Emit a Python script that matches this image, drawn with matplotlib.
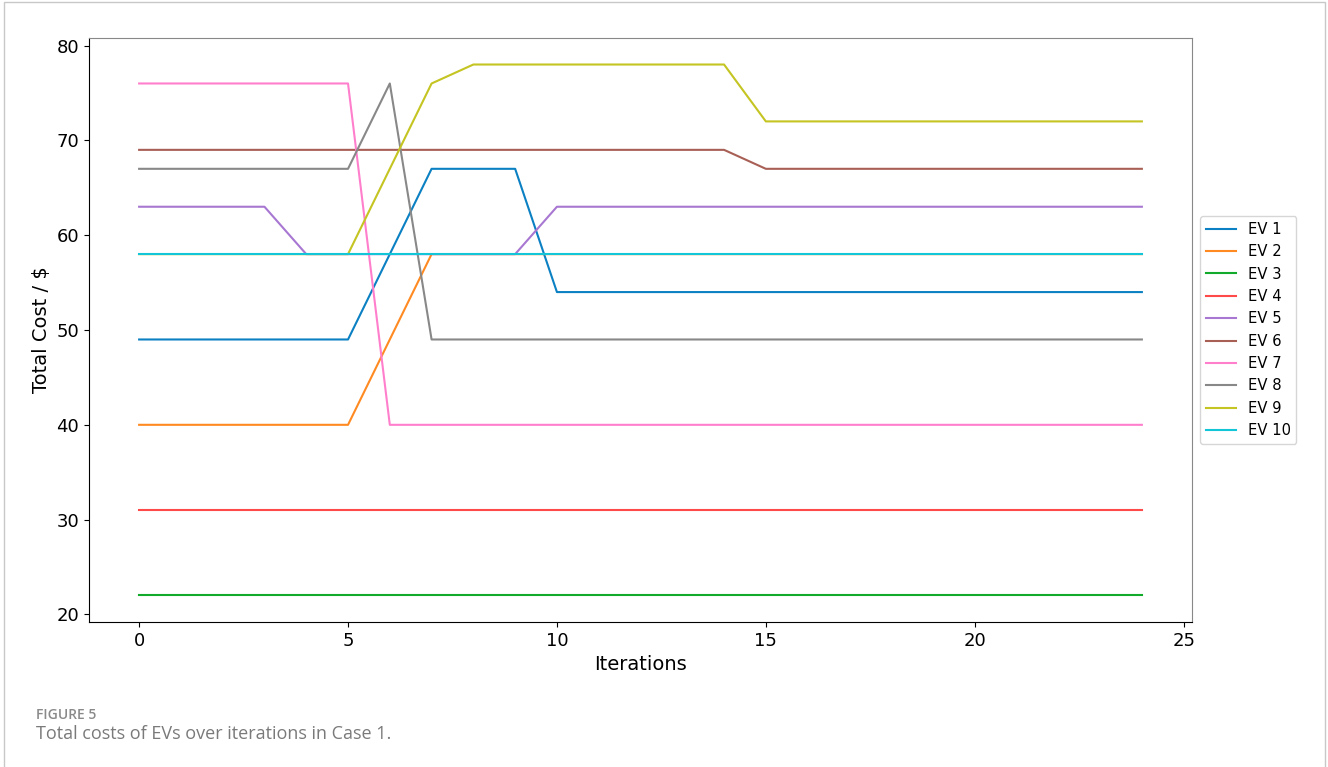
import numpy as np
import matplotlib.pyplot as plt
from matplotlib.patches import Rectangle

# costo total de cada EV por iteracion (0..24)
iteraciones = list(range(25))
ev1 = [49] * 6 + [58] + [67] * 3 + [54] * 15
ev2 = [40] * 6 + [49] + [58] * 18
ev3 = [22] * 25
ev4 = [31] * 25
ev5 = [63] * 4 + [58] * 6 + [63] * 15
ev6 = [69] * 15 + [67] * 10
ev7 = [76] * 6 + [40] * 19
ev8 = [67] * 6 + [76] + [49] * 18
ev9 = [58] * 6 + [67] + [76] + [78] * 7 + [72] * 10
ev10 = [58] * 25

costos = [ev1, ev2, ev3, ev4, ev5, ev6, ev7, ev8, ev9, ev10]
nombres = [f"EV {i}" for i in range(1, 11)]
colores = ["#0b80c2", "#ff8a22", "#12aa2a", "#ff4a4a", "#a877d2",
           "#a85f55", "#ff7fcc", "#888888", "#c4c422", "#12c6d8"]

fig = plt.figure(figsize=(13.28, 7.67), dpi=100)
ax = fig.add_axes([0.067, 0.189, 0.8306, 0.7615])

for nombre, c, col in zip(nombres, costos, colores):
    ax.plot(iteraciones, c, label=nombre, color=col, linewidth=1.5)

ax.set_xticks([0, 5, 10, 15, 20, 25])
ax.set_yticks([20, 30, 40, 50, 60, 70, 80])
ax.tick_params(labelsize=13)
ax.set_xlabel("Iterations", fontsize=14)
ax.set_ylabel("Total Cost / $", fontsize=14)
for lado in ["top", "right"]:
    ax.spines[lado].set_color("#888888")

ax.legend(loc="center left", bbox_to_anchor=(1.001, 0.5), fontsize=10.6)

# marco de la pagina y epigrafe
fig.patches.append(Rectangle((0.003, -0.1), 0.995, 1.097, transform=fig.transFigure,
                             fill=False, edgecolor="#c8c8c8", linewidth=1))
fig.text(0.027, 0.063, "FIGURE 5", fontsize=10, color="#8a8a8a",
         fontweight="semibold", family="Open Sans")
fig.text(0.027, 0.036, "Total costs of EVs over iterations in Case 1.", fontsize=13,
         color="#7a7a7a", family="Open Sans")

fig.savefig("out.png", dpi=100)
